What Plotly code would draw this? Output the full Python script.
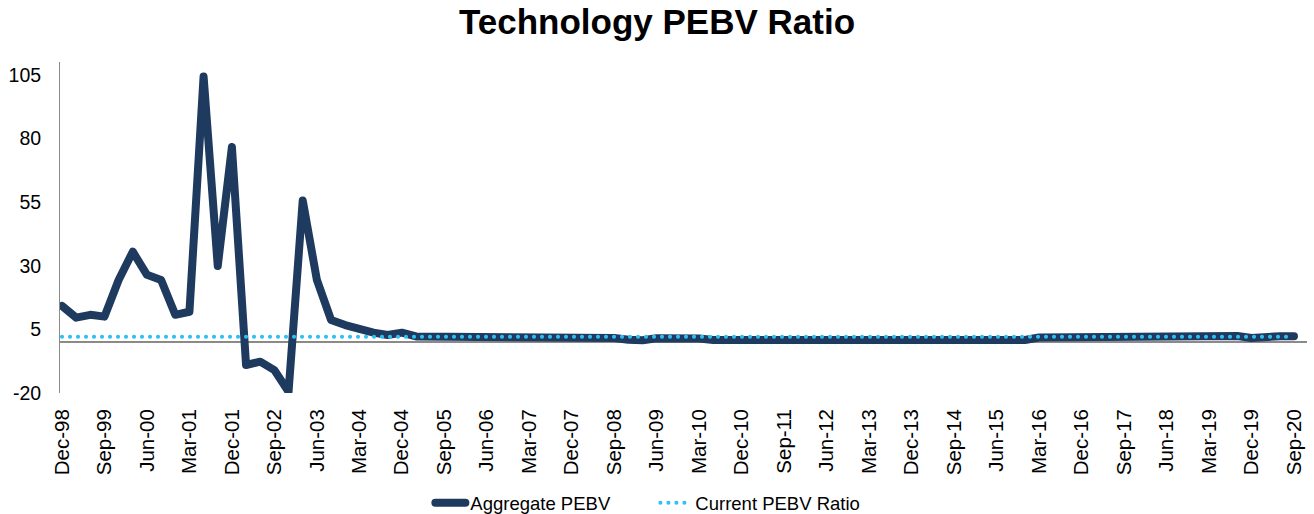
import plotly.graph_objects as go

# Quarter labels Dec-98 .. Sep-20
months = ["Mar", "Jun", "Sep", "Dec"]
quarters = ["Dec-98"]
for yr in range(1999, 2021):
    for m in months:
        quarters.append(f"{m}-{yr % 100:02d}")
quarters = quarters[:88]

tick_labels = quarters[::3]

aggregate_pebv = [
    14.2, 9.6, 10.7, 10.0, 24.4, 35.5, 26.4, 24.4, 10.7, 11.9,
    104.3, 29.9, 76.6, -9.0, -7.7, -11.0, -19.5, 55.6, 24.4, 8.7,
    6.7, 4.8, 3.7, 2.8, 3.7, 2.2, 2.2, 2.2, 2.2, 2.2,
    2.2, 2.2, 2.2, 2.2, 2.2, 2.2, 2.2, 1.6, 1.6, 1.6,
    0.9, 0.7, 1.5, 1.6, 1.5, 1.4, 0.8, 0.8, 0.8, 0.8,
    0.8, 0.8, 0.8, 0.8, 0.8, 0.8, 0.8, 0.8, 0.8, 0.8,
    0.8, 0.8, 0.8, 0.8, 0.8, 0.8, 0.8, 0.8, 0.8, 1.8,
    1.8, 1.8, 1.8, 1.8, 1.8, 1.8, 1.8, 1.8, 1.8, 1.8,
    1.8, 2.4, 2.4, 2.4, 1.6, 2.3, 2.3, 2.3,
]

current_pebv_value = 2.1
current_pebv = [current_pebv_value for _ in quarters]

y_ticks = [-20, 5, 30, 55, 80, 105]
y_tick_text = ["-20", "5", "30", "55", "80", "105"]

FONT = "Liberation Sans, Arial, sans-serif"
DARK = "#1F3A5F"
LIGHT = "#2EBFF3"
GRAY = "#8A8A8A"

fig = go.Figure()
fig.add_trace(go.Scatter(
    x=quarters, y=aggregate_pebv, mode="lines", name="Aggregate PEBV",
    line=dict(color=DARK, width=8),
))
fig.add_trace(go.Scatter(
    x=quarters, y=current_pebv, mode="lines", name="Current PEBV Ratio",
    line=dict(color=LIGHT, width=4, dash="0.1px,7.9px"),
))

fig.update_layout(
    width=1314, height=514,
    margin=dict(l=60, r=7, t=62, b=121),
    paper_bgcolor="white", plot_bgcolor="white",
    font=dict(family=FONT, color="black"),
    title=dict(text="<b>Technology PEBV Ratio</b>", x=0.5, xanchor="center",
               y=0.957, yanchor="middle", font=dict(size=35, family=FONT, color="black")),
    showlegend=True,
    legend=dict(orientation="h", x=0.297, xanchor="left",
                yref="container", y=0.021, yanchor="middle",
                entrywidth=180, entrywidthmode="pixels",
                font=dict(size=18.5, family=FONT, color="black"), bgcolor="rgba(0,0,0,0)"),
)
fig.update_xaxes(
    type="category", range=[-0.14, 87.92], automargin=False,
    tickmode="array", tickvals=tick_labels, ticktext=tick_labels,
    tickangle=-90, tickfont=dict(size=20.5, family=FONT, color="black"),
    showgrid=False, showline=False, zeroline=False, ticks="",
    ticklabelstandoff=11,
)
fig.update_yaxes(
    range=[-20, 110], tickmode="array", tickvals=y_ticks, ticktext=y_tick_text,
    automargin=False,
    tickfont=dict(size=19.5, family=FONT, color="black"),
    showgrid=False, showline=True, linecolor=GRAY, linewidth=1,
    zeroline=True, zerolinecolor=GRAY, zerolinewidth=1.5,
    ticks="", ticklabelstandoff=14,
)

post = """
document.body.style.margin='0';
var st=document.createElement('style');
st.textContent='.scatterlayer .js-line, .legend .js-line{stroke-linejoin:round;stroke-linecap:round;}';
document.head.appendChild(st);
"""

fig.write_html("out.html", config={"displayModeBar": False}, post_script=post)
